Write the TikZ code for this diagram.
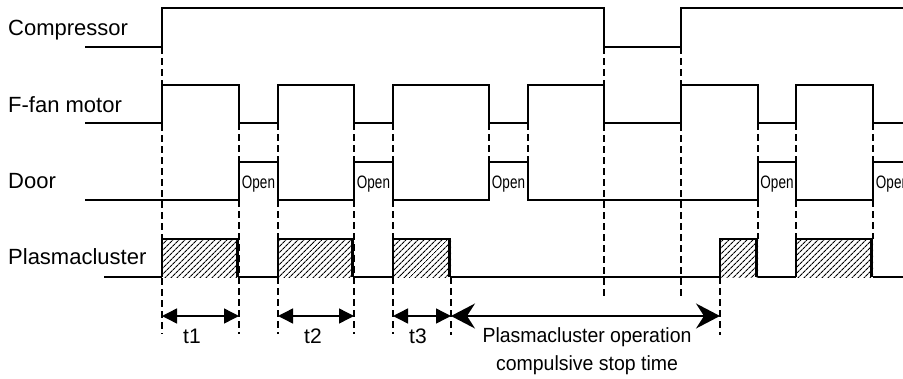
\documentclass[tikz,border=0pt]{standalone}
\usepackage{fontspec}
\setmainfont{Liberation Sans}
\newfontfamily\condfont[FakeStretch=0.95]{Liberation Sans}
\newfontfamily\openfont[FakeStretch=0.75]{Liberation Sans}
\usetikzlibrary{arrows.meta,patterns.meta}
\tikzset{
  sig/.style={line width=1.4pt, line join=miter},
  guide/.style={line width=1.1pt, dash pattern=on 7pt off 4pt},
  hatch/.style={pattern={Lines[angle=45,distance=4pt,line width=1.1pt]}},
  lbl/.style={font=\fontsize{22}{24}\selectfont, anchor=base west, inner sep=0pt},
  tlbl/.style={font=\fontsize{21}{23}\selectfont, anchor=base, inner sep=0pt},
  clbl/.style={font=\condfont\fontsize{20.5}{22}\selectfont, anchor=base, inner sep=0pt},
  olbl/.style={font=\openfont\fontsize{18}{20}\selectfont, anchor=base, inner sep=0pt},
  dimarrow/.style={line width=1.4pt, {Triangle[length=15pt,width=15pt]}-{Triangle[length=15pt,width=15pt]}},
  bigarrow/.style={line width=1.4pt, {Stealth[length=24pt,width=25pt,inset=8pt]}-{Stealth[length=24pt,width=25pt,inset=8pt]}}
}
\begin{document}
\begin{tikzpicture}[x=1pt,y=-1pt]
\useasboundingbox (0,0) rectangle (903,378);
\clip (0,0) rectangle (903,378);
% dashed guide lines
\draw[guide] (162,47) -- (162,334);
\foreach \x in {239,278,354,393} \draw[guide] (\x,123) -- (\x,334);
\draw[guide] (451,277) -- (451,335);
\foreach \x in {489,528} \draw[guide] (\x,123) -- (\x,162);
\foreach \x in {604,681} \draw[guide] (\x,47) -- (\x,297);
\draw[guide] (720,277) -- (720,335);
\foreach \x in {758,796,873} \draw[guide] (\x,123) -- (\x,239);
% labels
\node[lbl] (comp) at (8,35) {Compressor};
\node[lbl] (fan) at (8,112) {F-fan motor};
\node[lbl] (door) at (8,188) {Door};
\node[lbl] (plasma) at (8,264) {Plasmacluster};
% compressor
\draw[sig] (85,47) -- (162,47) -- (162,8) -- (604,8) -- (604,47) -- (681,47) -- (681,8) -- (903,8);
% fan motor
\draw[sig] (85,123) -| (162,85) -| (239,123) -| (278,85) -| (354,123) -| (393,85) -| (489,123) -| (528,85) -| (604,123) -| (681,85) -| (758,123) -| (796,85) -| (873,123) -- (903,123);
% door
\draw[sig] (85,200) -| (239,162) -| (278,200) -| (354,162) -| (393,200) -| (489,162) -| (528,200) -| (758,162) -| (796,200) -| (873,162) -- (903,162);
\node[olbl] (o1) at (258.5,188) {Open};
\node[olbl] (o2) at (373.5,188) {Open};
\node[olbl] (o3) at (508.5,188) {Open};
\node[olbl] (o4) at (777,188) {Open};
\node[olbl] (o5) at (892.5,188) {Open};
% plasmacluster baseline
\draw[sig] (104,277) -- (162,277);
\draw[sig] (239,277) -- (278,277);
\draw[sig] (354,277) -- (393,277);
\draw[sig] (451,277) -- (720,277);
\draw[sig] (758,277) -- (796,277);
\draw[sig] (873,277) -- (903,277);
% hatched boxes
\foreach \a/\b in {162/239,278/354,393/451,720/758,796/873}{
  \fill[hatch] (\a,239) rectangle (\b,277);
  \draw[sig] (\a,277) -- (\a,239) -- (\b,239);
  \draw[line width=3pt] (\b-1.5,239) -- (\b-1.5,277);
}
% dimension arrows
\coordinate (a1) at (162,316); \coordinate (b1) at (239,316);
\coordinate (a2) at (278,316); \coordinate (b2) at (354,316);
\coordinate (a3) at (393,316); \coordinate (b3) at (451,316);
\coordinate (a4) at (451,316); \coordinate (b4) at (720,316);
\draw[dimarrow] (a1) -- (b1);
\draw[dimarrow] (a2) -- (b2);
\draw[dimarrow] (a3) -- (b3);
\draw[bigarrow] (a4) -- (b4);
\node[tlbl] (t1) at (192,343) {t1};
\node[tlbl] (t2) at (313,343) {t2};
\node[tlbl] (t3) at (418,343) {t3};
\node[clbl] (pc1) at (587,342) {Plasmacluster operation};
\node[clbl] (pc2) at (587,370) {compulsive stop time};
\end{tikzpicture}
\end{document}
